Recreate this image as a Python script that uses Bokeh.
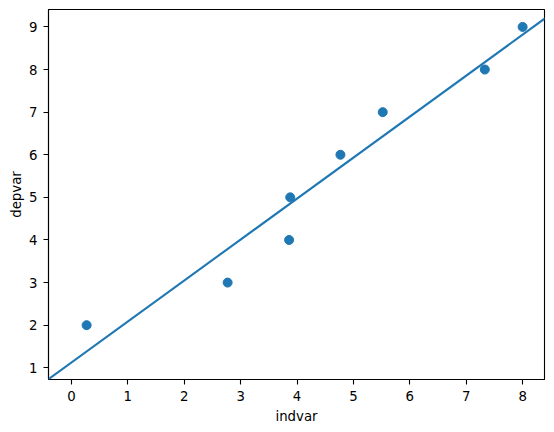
import numpy as np
from bokeh.plotting import figure
from bokeh.models import Slope, FixedTicker, Range1d
from bokeh.embed import file_html
from bokeh.resources import INLINE

# data
indvar = [0.27, 2.77, 3.86, 3.88, 4.77, 5.52, 7.33, 8.00]
depvar = [2, 3, 4, 5, 6, 7, 8, 9]
x_ticks = [0, 1, 2, 3, 4, 5, 6, 7, 8]
y_ticks = [1, 2, 3, 4, 5, 6, 7, 8, 9]

# least-squares fit line
gradient, intercept = np.polyfit(indvar, depvar, 1)

p = figure(
    frame_width=496, frame_height=370,
    min_border_left=48, min_border_top=9, min_border_right=2, min_border_bottom=40,
    x_range=Range1d(-0.406, 8.388), y_range=Range1d(0.725, 9.409),
    output_backend="svg", toolbar_location=None,
)

p.scatter(indvar, depvar, size=9, color="#1f77b4", line_color="#1f77b4")
p.add_layout(Slope(gradient=gradient, y_intercept=intercept,
                   line_color="#1f77b4", line_width=2.1))

p.grid.visible = False
p.outline_line_color = "black"
p.outline_line_width = 1.1
p.outline_line_alpha = 1

p.xaxis.ticker = FixedTicker(ticks=x_ticks)
p.yaxis.ticker = FixedTicker(ticks=y_ticks)
for ax in (p.xaxis, p.yaxis):
    ax.axis_line_color = "black"
    ax.axis_line_width = 1.1
    ax.major_tick_line_color = "black"
    ax.major_tick_line_width = 1.1
    ax.major_tick_out = 5
    ax.major_tick_in = 0
    ax.minor_tick_line_color = None
    ax.major_label_text_font = "DejaVu Sans"
    ax.major_label_text_font_size = "13.3px"
    ax.major_label_text_color = "black"
    ax.axis_label_text_font = "DejaVu Sans"
    ax.axis_label_text_font_size = "13.3px"
    ax.axis_label_text_font_style = "normal"
    ax.axis_label_text_color = "black"

p.xaxis.major_label_standoff = 6
p.yaxis.major_label_standoff = 6
p.xaxis.axis_label = "indvar"
p.yaxis.axis_label = "depvar"
p.xaxis.axis_label_standoff = 5
p.yaxis.axis_label_standoff = 2

open("out.html", "w").write(file_html(p, INLINE))
